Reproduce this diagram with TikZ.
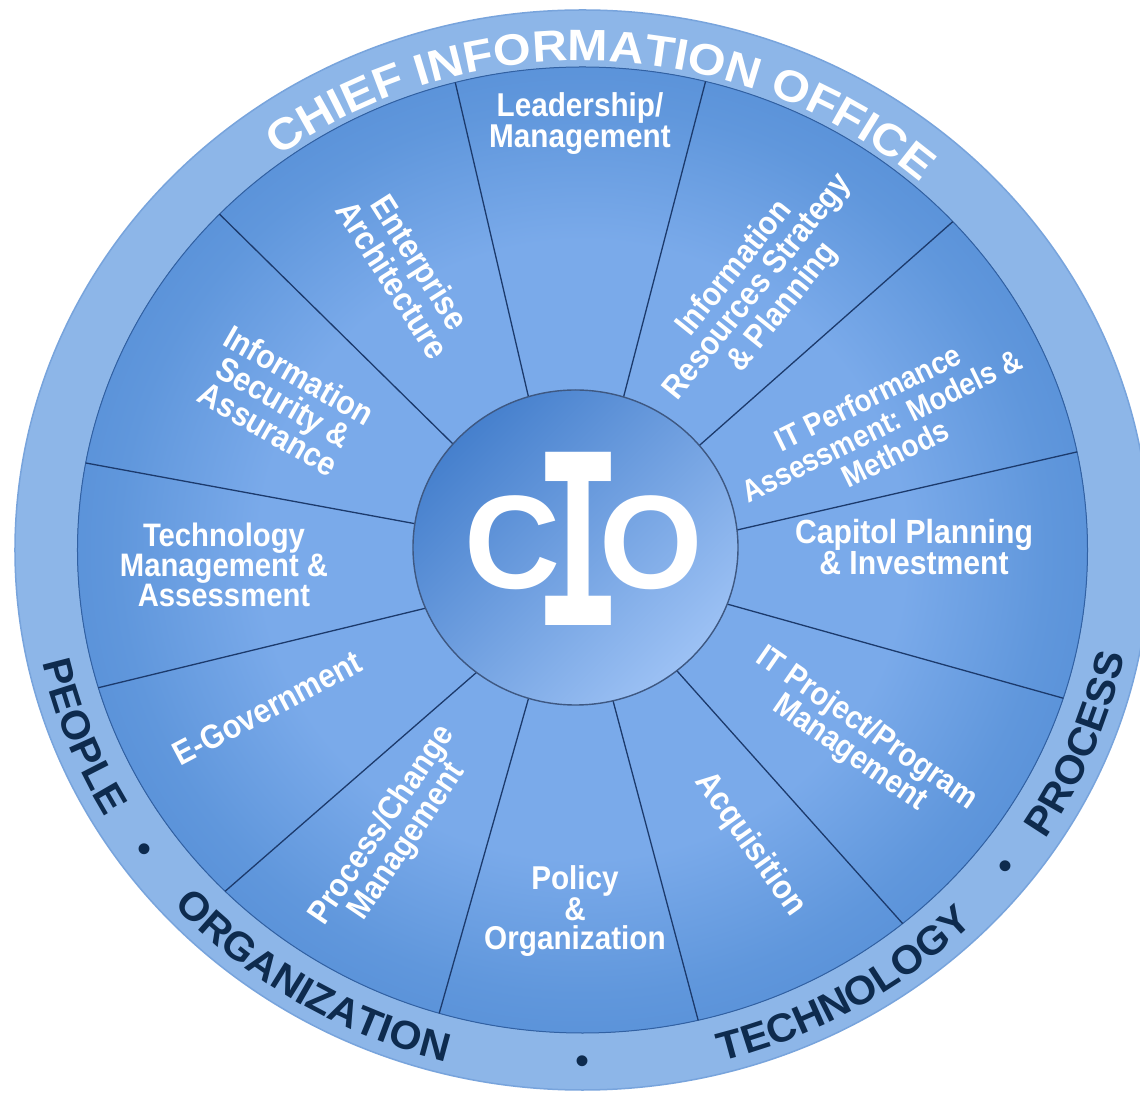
\documentclass[tikz,border=0pt]{standalone}
\usepackage{fontspec}
\usepackage{graphicx}
\setmainfont{Liberation Sans}
\newfontfamily\lblfont[FakeStretch=0.9]{Liberation Sans}
\newfontfamily\ringfont[FakeStretch=1.03]{Liberation Sans}
\newfontfamily\topringfont[FakeStretch=1.1]{Liberation Sans}
\newfontfamily\slabfont{Liberation Mono}
\usetikzlibrary{decorations.text}

\definecolor{ringblue}{HTML}{8DB6E8}
\definecolor{ringedge}{HTML}{78A4DC}
\definecolor{dlight}{HTML}{7AAAEA}
\definecolor{dlm}{HTML}{6097DC}
\definecolor{dmid}{HTML}{4883D0}
\definecolor{ddark}{HTML}{3A72C0}
\definecolor{segline}{HTML}{1C3A6C}
\definecolor{cdark}{HTML}{4680CD}
\definecolor{clight}{HTML}{9CC1F4}
\definecolor{navy}{HTML}{0E2B4E}

\pgfdeclareradialshading{diskshade}{\pgfpoint{0bp}{0bp}}{color(0bp)=(dlight); color(16bp)=(dlight); color(23bp)=(dlm); color(34bp)=(dmid); color(50bp)=(ddark)}

\newcommand\lblsz[2]{\lblfont\bfseries\fontsize{#1}{#2}\selectfont}
\newcommand\ringsz[1]{\ringfont\bfseries\fontsize{#1}{#1}\selectfont}

\tikzset{
  lbl/.style={text=white, align=center, inner sep=0pt},
  segln/.style={draw=segline, line width=1.3pt, shorten >=-40pt, shorten <=-15pt},
  bulletdot/.style={text=navy, inner sep=0pt, font=\fontsize{40}{40}\selectfont},
}

\begin{document}
\begin{tikzpicture}[x=1pt,y=1pt]
\useasboundingbox (-582.5,-549) rectangle (557.5,550);
\fill[white] (-582.5,-549) rectangle (557.5,550);
\clip (-582.5,-549) rectangle (557.5,550);

% outer ring
\fill[ringblue, draw=ringedge, line width=1.5pt] (0,0) ellipse[x radius=567.5pt, y radius=540pt];

% main disk
\fill[shading=diskshade, draw=ddark!85!black, line width=1pt] (0,0) ellipse[x radius=505pt, y radius=483pt];

% segment boundaries
\begin{scope}
\clip (0,0) ellipse[x radius=505pt, y radius=483pt];
\foreach \ix/\iy/\ox/\oy in {
  -51.6/142.7/-126.1/462.7,
  38.4/142.7/122/464.5,
  114.8/102.7/363.9/322.7,
  158.4/20.9/491.1/97.3,
  153/-56.4/483.9/-149.1,
  100.2/-127.3/327.5/-381.8,
  33/-160/120.2/-487.3,
  -55.2/-152.7/-148/-480,
  -111.6/-127.3/-364.3/-347.3,
  -164.3/-60/-486.1/-138.2,
  -168/26.4/-493.4/86.4,
  -122.5/99.1/-358.9/331.8}
  \draw[segln] (\ix,\iy) -- (\ox,\oy);
\end{scope}

% central circle
\fill[top color=cdark, bottom color=clight, shading angle=45, draw=segline!85, line width=1.4pt]
  (-7,2.5) ellipse[x radius=162.5pt, y radius=157.5pt];

% CIO
\node[inner sep=0pt, text=white, font=\bfseries\fontsize{133}{133}\selectfont] (cioC) at (-70,7.5) {C};
\node[inner sep=0pt, text=white] (cioI) at (-4,11.5) {\resizebox{88pt}{173pt}{\slabfont\bfseries I}};
\node[inner sep=0pt, text=white, font=\bfseries\fontsize{133}{133}\selectfont] (cioO) at (68.5,7.5) {O};

% segment labels
\node[lbl, font=\lblsz{33}{27}] (lead) at (-2.5,426.4) {Leadership/\\Management};
\node[lbl, font=\lblsz{33}{30}, rotate=51.2] (irsp) at (176.5,262) {Information\\Resources Strategy\\\& Planning};
\node[lbl, font=\lblsz{31}{31}, rotate=26.1] (itpa) at (299,124.5) {IT Performance\\Assessment: Models \&\\Methods};
\node[lbl, font=\lblsz{33.5}{26}] (cpi) at (331.5,3) {Capitol Planning\\\& Investment};
\node[lbl, font=\lblsz{32.5}{30}, rotate=-34.7] (itpm) at (275.5,-191) {IT Project/Program\\Management};
\node[lbl, font=\lblsz{34}{34}, rotate=-54.6] (acq) at (167.5,-294.5) {Acquisition};
\node[lbl, font=\lblsz{33}{29}] (pol) at (-7.5,-361) {Policy\\\&\\Organization};
\node[lbl, font=\lblsz{33}{30}, rotate=55.8] (pcm) at (-187.5,-283.6) {Process/Change\\Management};
\node[lbl, font=\lblsz{33.5}{33.5}, rotate=27.9] (egov) at (-315.2,-158.2) {E-Government};
\node[lbl, font=\lblsz{32.5}{29}] (tma) at (-358.5,-15) {Technology\\Management \&\\Assessment};
\node[lbl, font=\lblsz{33.5}{31}, rotate=-29.9] (isa) at (-298.5,148) {Information\\Security \&\\Assurance};
\node[lbl, font=\lblsz{34}{30}, rotate=-57.6] (ea) at (-175.7,279.1) {Enterprise\\Architecture};

% ring texts
\path[decorate, decoration={text along path, text align=center,
  text={|\topringfont\bfseries\fontsize{44}{44}\selectfont\color{white}|CHIEF INFORMATION OFFICE}}]
  (147.5:512pt and 489pt) arc[start angle=147.5, end angle=27.5, x radius=512pt, y radius=489pt];

\path[decorate, decoration={text along path, text align=center,
  text={|\ringsz{40}\color{navy}|PEOPLE}}]
  (161:553pt and 528pt) arc[start angle=161, end angle=241, x radius=553pt, y radius=528pt];
\path[decorate, decoration={text along path, text align=center,
  text={|\ringsz{40}\color{navy}|ORGANIZATION}}]
  (198.6:553pt and 528pt) arc[start angle=198.6, end angle=278.6, x radius=553pt, y radius=528pt];
\path[decorate, decoration={text along path, text align=center,
  text={|\ringsz{40}\color{navy}|TECHNOLOGY}}]
  (260.2:553pt and 528pt) arc[start angle=260.2, end angle=340.2, x radius=553pt, y radius=528pt];
\path[decorate, decoration={text along path, text align=center,
  text={|\ringsz{40}\color{navy}|PROCESS}}]
  (298:553pt and 528pt) arc[start angle=298, end angle=378, x radius=553pt, y radius=528pt];

\node[bulletdot] (dot1) at (216:541pt and 515pt) {•};
\node[bulletdot] (dot2) at (270:541pt and 515pt) {•};
\node[bulletdot] (dot3) at (321.5:541pt and 515pt) {•};
\end{tikzpicture}
\end{document}
